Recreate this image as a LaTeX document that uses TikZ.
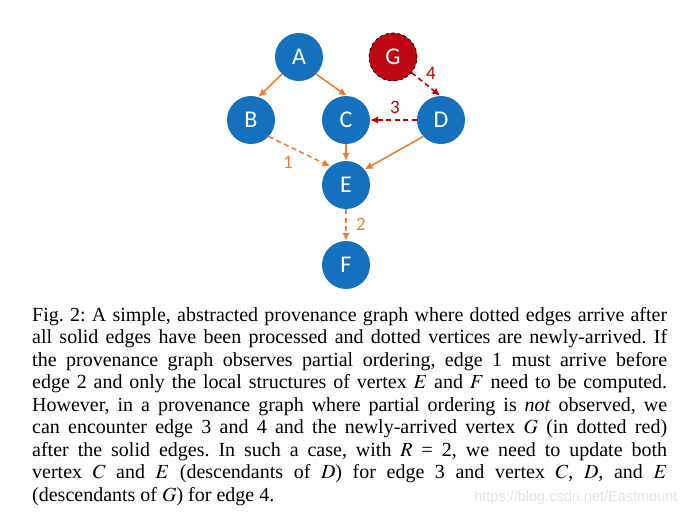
\documentclass[tikz,border=0pt]{standalone}
\usepackage{mathptmx}
\usepackage{fontspec}
\setmainfont{Liberation Serif}
\newfontfamily\vertexfont{Carlito}
\newfontfamily\markfont{Liberation Sans}
\usetikzlibrary{arrows.meta, positioning}
\definecolor{VertexBlue}{HTML}{1570BE}
\definecolor{NewRed}{HTML}{BE0712}
\definecolor{EdgeOrange}{HTML}{ED7D31}
\definecolor{EdgeRed}{HTML}{C00000}
\frenchspacing

\begin{document}
\begin{tikzpicture}[x=1pt, y=-1pt, >={Latex[length=8pt, width=7.5pt]},
    vertex/.style={circle, fill=VertexBlue, minimum size=48pt, inner sep=0pt,
        text=white, font=\vertexfont\fontsize{24}{24}\selectfont},
    newvertex/.style={vertex, fill=NewRed, draw=black, dashed, line width=0.8pt},
    oldedge/.style={->, draw=EdgeOrange, line width=1.6pt},
    lateedge/.style={oldedge, dash pattern=on 5pt off 3.5pt},
    newedge/.style={->, draw=EdgeRed, line width=1.6pt, dash pattern=on 5pt off 3.5pt},
    edgelabel/.style={font=\vertexfont\fontsize{19}{19}\selectfont}]
        % Frame of the whole figure
        \useasboundingbox (0,0) rectangle (689,517);

        % Vertices of the provenance graph
        \node[vertex] (A) at (299, 57) {A};
        \node[newvertex] (G) at (393, 57) {G};
        \node[vertex] (B) at (251, 120) {B};
        \node[vertex] (C) at (346, 120) {C};
        \node[vertex] (D) at (441, 120) {D};
        \node[vertex] (E) at (346, 185) {E};
        \node[vertex] (F) at (346, 265) {F};

        % Solid edges (already processed)
        \draw[oldedge] (A.225) -- (B.72);
        \draw[oldedge] (A.-45) -- (C.88);
        \draw[oldedge] (C.south) -- (E.north);
        \draw[oldedge] (D.223) -- (E.40);

        % Dotted edges arriving later
        \draw[lateedge] (B.-43) -- (E.130);
        \draw[lateedge] (E.south) -- (F.north);
        \draw[newedge] (D.west) -- (C.east);
        \draw[newedge] (G.-40) -- (D.92);

        % Edge numbers
        \node[edgelabel, text=EdgeOrange] (lab1) at (288, 162) {1};
        \node[edgelabel, text=EdgeOrange] (lab2) at (361, 224) {2};
        \node[edgelabel, text=EdgeRed] (lab3) at (395, 107) {3};
        \node[edgelabel, text=EdgeRed] (lab4) at (431, 73) {4};

        % Watermark under the caption
        \node[anchor=east, font=\markfont\fontsize{14.5}{14.5}\selectfont, text=gray!22]
            (mark) at (681, 498) {https://blog.csdn.net/Eastmount};

        % Caption
        \node[anchor=north west, text width=635pt, align=justify, inner sep=0pt,
            font=\fontsize{20}{22.5}\selectfont] (caption) at (32, 307)
            {Fig. 2: A simple, abstracted provenance graph where dotted edges arrive after\linebreak
             all solid edges have been processed and dotted vertices are newly-arrived. If\linebreak
             the provenance graph observes partial ordering, edge 1 must arrive before\linebreak
             edge 2 and only the local structures of vertex $E$ and $F$ need to be computed.\linebreak
             However, in a provenance graph where partial ordering is \emph{not} observed, we\linebreak
             can encounter edge 3 and 4 and the newly-arrived vertex $G$ (in dotted red)\linebreak
             after the solid edges. In such a case, with $R$ = 2, we need to update both\linebreak
             vertex $C$ and $E$ (descendants of $D$) for edge 3 and vertex $C$, $D$, and $E$\linebreak
             (descendants of $G$) for edge 4.};
\end{tikzpicture}
\end{document}
